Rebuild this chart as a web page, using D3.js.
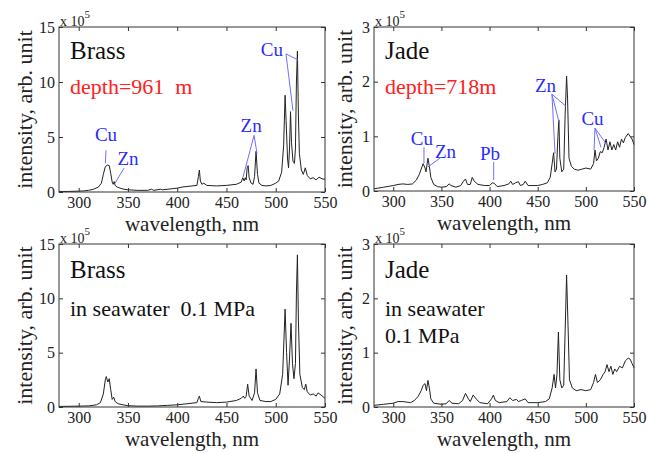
<!DOCTYPE html>
<html>
<head>
<meta charset="utf-8">
<script src="https://cdn.jsdelivr.net/npm/d3@7"></script>
<style>
  body { margin: 0; background: #fff; }
  svg text { font-family: "Liberation Serif", "Times New Roman", serif; }
</style>
</head>
<body>
<svg id="fig" width="656" height="453"></svg>
<script>
// wavelength ticks (nm)
const xTicks = [300, 350, 400, 450, 500, 550];

// Brass, depth 961 m  [nm, intensity x1e5]
const brassDepth = [
  [280,0.05],[290,0.05],[300,0.08],[305,0.1],[310,0.15],[315,0.25],[320,0.45],[323,0.8],[325,1.6],[327,2.3],
  [329,2.45],[331,2.4],[332.5,1.7],[334,0.9],[335,0.7],[336,0.95],[337,0.6],[339,0.45],[342,0.35],[346,0.25],
  [350,0.2],[360,0.15],[370,0.15],[374,0.25],[376,0.15],[383,0.25],[385,0.2],[395,0.3],[400,0.35],[405,0.45],
  [410,0.5],[415,0.55],[420,0.6],[421.5,1.4],[422.5,2.0],[423.5,1.0],[425,0.7],[427,0.8],[430,0.6],[440,0.55],
  [450,0.6],[460,0.7],[465,0.9],[466.5,1.3],[468,1.0],[469,1.3],[470,1.1],[471,2.2],[472,2.4],[473,1.3],
  [475,0.8],[477,0.7],[478.5,1.4],[480,3.7],[481.5,1.6],[483,0.8],[486,0.6],[490,0.55],[495,0.6],[500,0.8],
  [503,1.0],[506,1.8],[508,4.2],[509.5,8.8],[510.5,6.5],[512,3.0],[513,2.2],[514,4.0],[515,7.3],[516,4.5],
  [517.5,2.8],[519,2.6],[520,4.0],[521,10.0],[522,12.8],[523,7.0],[524,3.5],[526,2.0],[528,1.6],[530,2.2],
  [532,1.5],[535,1.2],[538,1.3],[541,1.1],[544,1.35],[547,1.2],[550,1.15]
];

// Jade, depth 718 m
const jadeDepth = [
  [280,0.04],[290,0.07],[300,0.1],[305,0.12],[310,0.13],[315,0.12],[320,0.13],[324,0.2],[327,0.3],[329,0.4],
  [331,0.5],[333,0.42],[334,0.35],[336,0.6],[337.5,0.45],[339,0.25],[342,0.12],[346,0.08],[350,0.07],[355,0.08],
  [358,0.13],[360,0.1],[365,0.07],[370,0.1],[373,0.18],[375,0.22],[377,0.12],[380,0.12],[382,0.25],[384,0.18],
  [388,0.12],[395,0.1],[400,0.1],[403,0.15],[405,0.14],[408,0.08],[415,0.1],[420,0.13],[422,0.18],[424,0.12],
  [427,0.15],[430,0.17],[432,0.1],[435,0.12],[437,0.18],[440,0.1],[445,0.1],[450,0.1],[455,0.12],[460,0.15],
  [463,0.25],[465,0.5],[466.5,0.7],[468,0.35],[469.5,0.4],[471,1.0],[472,1.3],[473,0.6],[475,0.35],[477,0.4],
  [478.5,1.4],[480,2.1],[481,1.7],[482.5,0.6],[485,0.45],[488,0.4],[492,0.38],[496,0.4],[500,0.42],[505,0.4],
  [508,0.5],[509.5,0.75],[511,0.55],[513,0.6],[515,0.72],[517,0.7],[519,0.8],[521,0.95],[523,0.75],[525,0.9],
  [527,0.75],[529,0.85],[531,0.75],[533,0.9],[535,0.8],[537,0.95],[539,0.88],[541,0.98],[544,1.05],[546,1.0],
  [548,0.95],[550,0.85]
];

// Brass, in seawater 0.1 MPa
const brassSea = [
  [280,0.05],[300,0.08],[310,0.1],[318,0.2],[322,0.4],[325,1.2],[327,2.5],[328,2.8],[329.5,2.3],[331,2.6],
  [332.5,1.6],[334,0.7],[335.5,0.9],[337,0.5],[340,0.3],[345,0.2],[350,0.12],[360,0.08],[370,0.08],[380,0.1],
  [390,0.15],[400,0.2],[410,0.3],[420,0.4],[421.5,0.8],[422.5,1.0],[424,0.5],[430,0.45],[440,0.4],[450,0.45],
  [460,0.6],[465,0.8],[467,1.0],[468.5,0.8],[470,1.0],[471.5,2.1],[473,1.0],[476,0.6],[478.5,1.3],[480,3.5],
  [481.5,1.3],[484,0.6],[490,0.5],[495,0.5],[500,0.7],[504,1.2],[507,3.0],[509.5,9.0],[511,5.0],[512.5,2.0],
  [514,4.5],[515.5,7.7],[517,4.0],[518.5,2.6],[520,4.0],[521,10.5],[522,14.0],[523,8.0],[524.5,3.0],[527,1.8],
  [529,1.6],[530.5,2.1],[532,1.4],[535,1.1],[538,1.2],[541,1.0],[543,1.3],[546,1.1],[550,0.8]
];

// Jade, in seawater 0.1 MPa
const jadeSea = [
  [280,0.03],[290,0.05],[300,0.07],[305,0.1],[310,0.1],[318,0.08],[322,0.12],[326,0.2],[329,0.3],[331,0.4],
  [333,0.43],[334.5,0.3],[336,0.49],[337.5,0.35],[339,0.15],[342,0.07],[350,0.05],[355,0.06],[358,0.12],[361,0.07],
  [368,0.06],[372,0.12],[375,0.25],[378,0.15],[380,0.1],[383,0.22],[386,0.15],[390,0.08],[398,0.06],[402,0.15],
  [404,0.22],[406,0.12],[410,0.08],[418,0.1],[421,0.17],[424,0.12],[428,0.14],[430,0.1],[433,0.12],[437,0.15],
  [440,0.08],[450,0.08],[458,0.1],[462,0.15],[465,0.35],[467,0.6],[468.5,0.35],[470,0.6],[471.5,1.38],[473,0.5],
  [475,0.35],[477,0.4],[478.5,1.4],[480,2.43],[481.5,1.5],[483,0.5],[486,0.35],[490,0.3],[495,0.32],[500,0.3],
  [505,0.32],[508,0.45],[510,0.6],[512,0.45],[515,0.5],[518,0.6],[520,0.65],[522,0.78],[524,0.65],[526,0.75],
  [528,0.6],[530,0.7],[532,0.65],[535,0.75],[538,0.72],[541,0.85],[544,0.9],[546,0.88],[548,0.8],[550,0.72]
];

// element labels: text, label anchor [nm, value], pointer lines from/to in data units
const brassDepthLabels = [
  { t: "Cu", at: [327.7, 4.6], lines: [[[327.7, 3.8], [327, 2.6]]] },
  { t: "Zn", at: [350, 2.44], lines: [[[346, 2.17], [336.9, 0.8]]] },
  { t: "Zn", at: [475, 5.42], lines: [[[478, 5.15], [466.8, 1.36]], [[478, 5.15], [481, 3.5]]] },
  { t: "Cu", at: [496, 12.4], lines: [[[510.4, 12.56], [517.5, 7.4]], [[510.4, 12.56], [522.6, 12.0]]] }
];
const jadeDepthLabels = [
  { t: "Cu", at: [329.8, 0.84], lines: [[[331.9, 0.8], [331.9, 0.51]]] },
  { t: "Zn", at: [354.3, 0.6], lines: [[[348.5, 0.6], [336, 0.44]]] },
  { t: "Pb", at: [400.5, 0.57], lines: [[[404.3, 0.53], [404.3, 0.2]]] },
  { t: "Zn", at: [458.1, 1.81], lines: [[[464.8, 1.77], [468, 0.68]], [[464.8, 1.77], [472.1, 1.26]], [[464.8, 1.77], [479.4, 1.55]]] },
  { t: "Cu", at: [506.9, 1.21], lines: [[[509.5, 1.15], [508.5, 0.75]], [[509.5, 1.15], [515.7, 0.8]], [[509.5, 1.15], [522, 0.84]]] }
];

const FONT = '"Liberation Serif", "Times New Roman", serif';
const svg = d3.select("#fig");

const panels = [
  { data: brassDepth, yMax: 15, yTicks: [0, 5, 10, 15], x0: 59, x1: 325, y0: 27, y1: 192,
    title: "Brass", titleY: 32, subY: 67, sub: [{ t: "depth=961  m", c: "#ff2020" }], labels: brassDepthLabels, ylx: 32 },
  { data: jadeDepth, yMax: 3, yTicks: [0, 1, 2, 3], x0: 374, x1: 634, y0: 27, y1: 191,
    title: "Jade", titleY: 32, subY: 67, sub: [{ t: "depth=718m", c: "#ff2020" }], labels: jadeDepthLabels, ylx: 352 },
  { data: brassSea, yMax: 15, yTicks: [0, 5, 10, 15], x0: 59, x1: 325, y0: 244, y1: 407,
    title: "Brass", titleY: 34, subY: 72, sub: [{ t: "in seawater  0.1 MPa", c: "#111" }], labels: [], ylx: 32 },
  { data: jadeSea, yMax: 3, yTicks: [0, 1, 2, 3], x0: 374, x1: 634, y0: 244, y1: 407,
    title: "Jade", titleY: 34, subY: 72, sub: [{ t: "in seawater", c: "#111" }, { t: "0.1 MPa", c: "#111" }], labels: [], ylx: 352 }
];

panels.forEach(p => {
  const x = d3.scaleLinear().domain([280, 550]).range([p.x0, p.x1]);
  const y = d3.scaleLinear().domain([0, p.yMax]).range([p.y1, p.y0]);
  const g = svg.append("g");

  // spectrum
  g.append("path")
    .datum(p.data)
    .attr("fill", "none")
    .attr("stroke", "#222")
    .attr("stroke-width", 1)
    .attr("stroke-linejoin", "round")
    .attr("d", d3.line().x(d => x(d[0])).y(d => y(d[1])));

  // axes, ticks pointing inward on all sides
  const ax = (gen, tx, ty, labels) => {
    const a = g.append("g").attr("transform", `translate(${tx},${ty})`).call(gen)
      .attr("font-family", FONT).attr("font-size", 16);
    a.select(".domain").remove();
    a.selectAll(".tick line").attr("stroke", "#333");
    a.selectAll("text").attr("fill", "#222");
    if (!labels) a.selectAll("text").remove();
    return a;
  };
  ax(d3.axisBottom(x).tickValues(xTicks).tickSizeInner(-4).tickSizeOuter(0).tickPadding(5), 0, p.y1, true);
  ax(d3.axisTop(x).tickValues(xTicks).tickSizeInner(-4).tickSizeOuter(0), 0, p.y0, false);
  ax(d3.axisLeft(y).tickValues(p.yTicks).tickFormat(d3.format("d")).tickSizeInner(-4).tickSizeOuter(0).tickPadding(4), p.x0, 0, true);
  ax(d3.axisRight(y).tickValues(p.yTicks).tickSizeInner(-4).tickSizeOuter(0), p.x1, 0, false);

  g.append("rect")
    .attr("x", p.x0).attr("y", p.y0)
    .attr("width", p.x1 - p.x0).attr("height", p.y1 - p.y0)
    .attr("fill", "none").attr("stroke", "#333").attr("stroke-width", 1);

  // x 10^5 multiplier
  const m = g.append("text").attr("x", p.x0 + 1).attr("y", p.y0 - 1)
    .attr("font-size", 14).attr("fill", "#222");
  m.append("tspan").text("x 10");
  m.append("tspan").attr("dy", -8).attr("font-size", 11).text("5");

  // axis titles
  g.append("text")
    .attr("x", (p.x0 + p.x1) / 2).attr("y", p.y1 + 39)
    .attr("text-anchor", "middle").attr("font-size", 21).attr("fill", "#222")
    .text("wavelength, nm");
  g.append("text")
    .attr("transform", `translate(${p.ylx},${(p.y0 + p.y1) / 2}) rotate(-90)`)
    .attr("text-anchor", "middle").attr("font-size", 22).attr("fill", "#222")
    .text("intensity, arb. unit");

  // panel titles
  g.append("text").attr("x", p.x0 + 11).attr("y", p.y0 + p.titleY)
    .attr("font-size", 25).attr("fill", "#111").text(p.title);
  p.sub.forEach((s, i) => {
    g.append("text").attr("x", p.x0 + 11).attr("y", p.y0 + p.subY + i * 27)
      .attr("font-size", 22)
      .attr("fill", s.c).attr("xml:space", "preserve").style("white-space", "pre")
      .text(s.t);
  });

  // element annotations
  p.labels.forEach(l => {
    l.lines.forEach(ln => {
      g.append("line")
        .attr("x1", x(ln[0][0])).attr("y1", y(ln[0][1]))
        .attr("x2", x(ln[1][0])).attr("y2", y(ln[1][1]))
        .attr("stroke", "#6f6fff").attr("stroke-width", 1);
    });
    g.append("text").attr("x", x(l.at[0])).attr("y", y(l.at[1]))
      .attr("text-anchor", "middle").attr("font-size", 19).attr("fill", "#2b2bff")
      .text(l.t);
  });
});
</script>
</body>
</html>
